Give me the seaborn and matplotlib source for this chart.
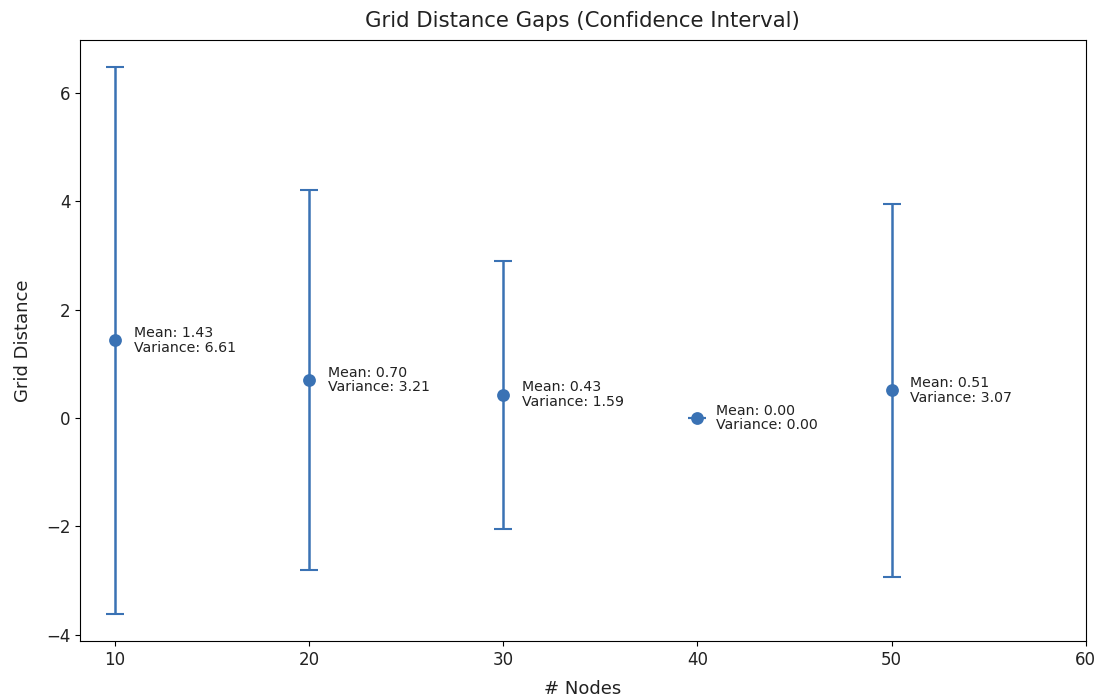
import numpy as np
import pandas as pd
import matplotlib
matplotlib.use("Agg")
import matplotlib.pyplot as plt
import seaborn as sns

nodes = [10, 20, 30, 40, 50]
means = [1.43, 0.70, 0.43, 0.00, 0.51]
variances = [6.61, 3.21, 1.59, 0.00, 3.07]
z = 1.96

df = pd.DataFrame({"nodes": nodes, "mean": means, "var": variances})
df["ci"] = z * np.sqrt(df["var"])

color = "#3a72b4"

fig = plt.figure(figsize=(10.99, 6.98), dpi=100)
ax = fig.add_axes([0.0728, 0.0817, 0.9152, 0.861])

ax.errorbar(df["nodes"], df["mean"], yerr=df["ci"], fmt="none",
            ecolor=color, elinewidth=1.8, capsize=6.5, capthick=1.5, zorder=2)
sns.scatterplot(data=df, x="nodes", y="mean", ax=ax, color=color, s=85,
                edgecolor=color, linewidth=0, zorder=3, legend=False)

for x, m, v in zip(df["nodes"], df["mean"], df["var"]):
    ax.annotate(f"Mean: {m:.2f}\nVariance: {v:.2f}", xy=(x, m),
                xytext=(13.5, 0), textcoords="offset points",
                va="center", ha="left", fontsize=10.2, linespacing=1.05,
                color="#222222")

ax.set_xlim(8.2, 60)
ax.set_xticks([10, 20, 30, 40, 50, 60])
ax.set_yticks([-4, -2, 0, 2, 4, 6])
ax.tick_params(labelsize=12, labelcolor="#222222")
ax.set_title("Grid Distance Gaps (Confidence Interval)", fontsize=15.3, pad=9,
             color="#222222")
ax.set_xlabel("# Nodes", fontsize=13, labelpad=8, color="#222222")
ax.set_ylabel("Grid Distance", fontsize=13, labelpad=10, color="#222222")

fig.savefig("out.png", dpi=100)
